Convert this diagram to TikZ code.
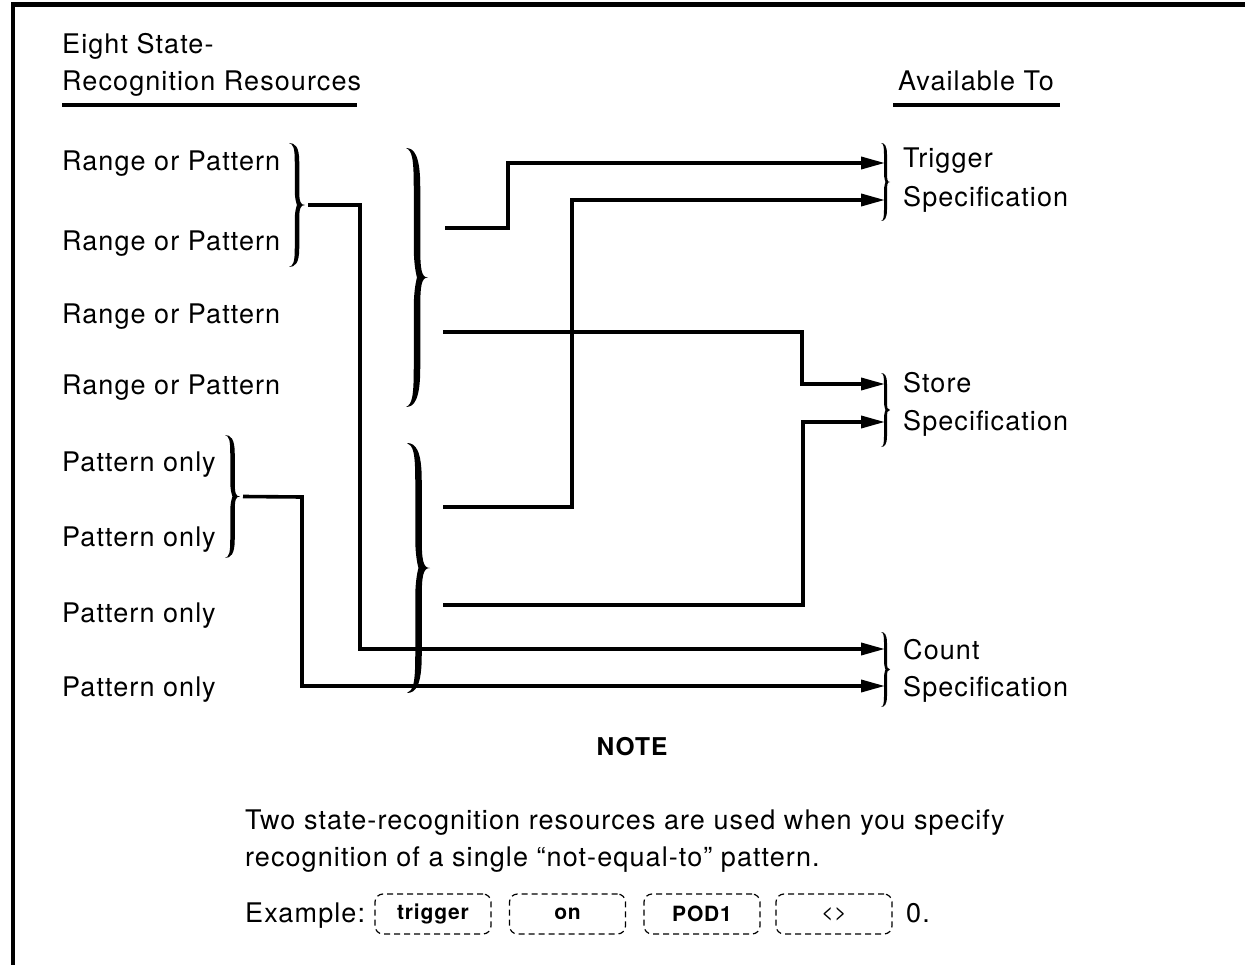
\documentclass[tikz,border=0pt]{standalone}
\usepackage{fontspec}
\setmainfont{TeX Gyre Heros}[LetterSpace=4]
\usetikzlibrary{arrows.meta}
\newcommand\rbr[6]{%
 \pgfmathsetmacro\bH{#4-#3}%
 \pgfmathsetmacro\bA{#5}%
 \pgfmathsetmacro\bS{0.5*#5}%
 \pgfmathsetmacro\bR{\bS+0.5*#6}%
 \pgfmathsetmacro\bL{\bS-0.5*#6}%
 \pgfmathsetmacro\bN{\bS}%
 \pgfmathsetmacro\bM{0.5*\bH}%
 \fill[shift={(#2,#3)}] (0,0)
   .. controls ({0.75*\bS},0) and (\bR,{0.03*\bH}) .. (\bR,{0.15*\bH})
   -- (\bR,{0.38*\bH})
   .. controls (\bR,{0.47*\bH}) and ({\bS+0.2*\bA},\bM) .. (\bA,\bM)
   .. controls ({\bS+0.2*\bA},\bM) and (\bR,{0.53*\bH}) .. (\bR,{0.62*\bH})
   -- (\bR,{0.85*\bH})
   .. controls (\bR,{0.97*\bH}) and ({0.75*\bS},\bH) .. (0,\bH)
   .. controls ({0.55*\bS},{0.99*\bH}) and (\bL,{0.96*\bH}) .. (\bL,{0.85*\bH})
   -- (\bL,{0.62*\bH})
   .. controls (\bL,{0.54*\bH}) and (\bS,\bM) .. (\bN,\bM)
   .. controls (\bS,\bM) and (\bL,{0.46*\bH}) .. (\bL,{0.38*\bH})
   -- (\bL,{0.15*\bH})
   .. controls (\bL,{0.04*\bH}) and ({0.55*\bS},{0.01*\bH}) .. (0,0) -- cycle;
 \coordinate (#1) at ({#2+#5},{(#3+#4)/2});
}
\begin{document}
\begin{tikzpicture}[x=1pt,y=-1pt,
  lbl/.style={anchor=base west, inner sep=0pt, font=\fontsize{27}{32}\selectfont},
  conn/.style={line width=3.6pt, line join=miter},
  arr/.style={conn, -{Triangle[length=24pt,width=12pt]}},
  uline/.style={line width=3.6pt},
  exbox/.style={draw, dash pattern=on 6pt off 4pt, rounded corners=8pt, line width=1.2pt,
     minimum width=116pt, minimum height=40pt, inner sep=0pt,
     font=\bfseries\fontsize{21}{25}\selectfont}]
\useasboundingbox (0,0) rectangle (1245,965);
\fill[white] (0,0) rectangle (1245,965);
% frame
\draw[line width=4.5pt, line join=miter] (13,965) -- (13,4.5) -- (1245,4.5);

% headings
\node[lbl] (h1) at (62,54) {Eight State-};
\node[lbl] (h2) at (62,91) {Recognition Resources};
\draw[uline] (62,105) -- (357,105);
\node[lbl] (av) at (898,91) {Available To};
\draw[uline] (893,105) -- (1060,105);

% left labels
\node[lbl] (r1) at (62,171) {Range or Pattern};
\node[lbl] (r2) at (62,251) {Range or Pattern};
\node[lbl] (r3) at (62,324) {Range or Pattern};
\node[lbl] (r4) at (62,395) {Range or Pattern};
\node[lbl] (p1) at (62,471) {Pattern only};
\node[lbl] (p2) at (62,546) {Pattern only};
\node[lbl] (p3) at (62,622) {Pattern only};
\node[lbl] (p4) at (62,696) {Pattern only};

% right labels
\node[lbl] (trg) at (903,168) {Trigger};
\node[lbl] (trgs) at (903,207) {Specification};
\node[lbl] (sto) at (903,393) {Store};
\node[lbl] (stos) at (903,430) {Specification};
\node[lbl] (cnt) at (903,659) {Count};
\node[lbl] (cnts) at (903,696) {Specification};

% braces
\rbr{S1}{289}{143}{267}{16}{4.5}
\rbr{S2}{225}{435}{558}{15}{4.5}
\rbr{B1}{406}{148}{407}{22}{6.5}
\rbr{B2}{407}{443}{693}{23}{6.5}
\rbr{R1}{881}{143}{221}{9}{3}
\rbr{R2}{881}{373}{447}{9}{3}
\rbr{R3}{881}{632}{707}{9}{3}

% connector ends
\coordinate (tTrg1) at (885,163);
\coordinate (tTrg2) at (885,200);
\coordinate (tSto1) at (885,384);
\coordinate (tSto2) at (885,422);
\coordinate (tCnt1) at (885,649);
\coordinate (tCnt2) at (885,686);
\coordinate (a1) at (445,228);
\coordinate (a2) at (443,332);
\coordinate (a3) at (443,507);
\coordinate (a4) at (443,605);

% connectors
\draw[arr] ([xshift=3pt]S1) -- (360,205) |- (tCnt1);
\draw[arr] ([xshift=3pt]S2) -- (302,497) |- (tCnt2);
\draw[arr] (a1) -- ++(63,0) |- (tTrg1);
\draw[arr] (a2) -- ++(359,0) |- (tSto1);
\draw[arr] (a3) -- ++(129,0) |- (tTrg2);
\draw[arr] (a4) -- ++(360,0) |- (tSto2);

% note
\node[anchor=base, inner sep=0pt, font=\bfseries\fontsize{24.5}{30}\selectfont] (note) at (632,755) {NOTE};
\node[lbl] (n1) at (245,829) {Two state-recognition resources are used when you specify};
\node[lbl] (n2) at (245,866) {recognition of a single “not-equal-to” pattern.};
\node[lbl] (ex) at (245,922) {Example:};
\node[exbox] (b1) at (433,914) {trigger};
\node[exbox] (b2) at (567.5,914) {on};
\node[exbox] (b3) at (702,914) {POD1};
\node[exbox, font=\fontsize{21}{25}\selectfont] (b4) at (834,914) {<>};
\node[lbl] (zero) at (906,922) {0.};
\end{tikzpicture}
\end{document}
